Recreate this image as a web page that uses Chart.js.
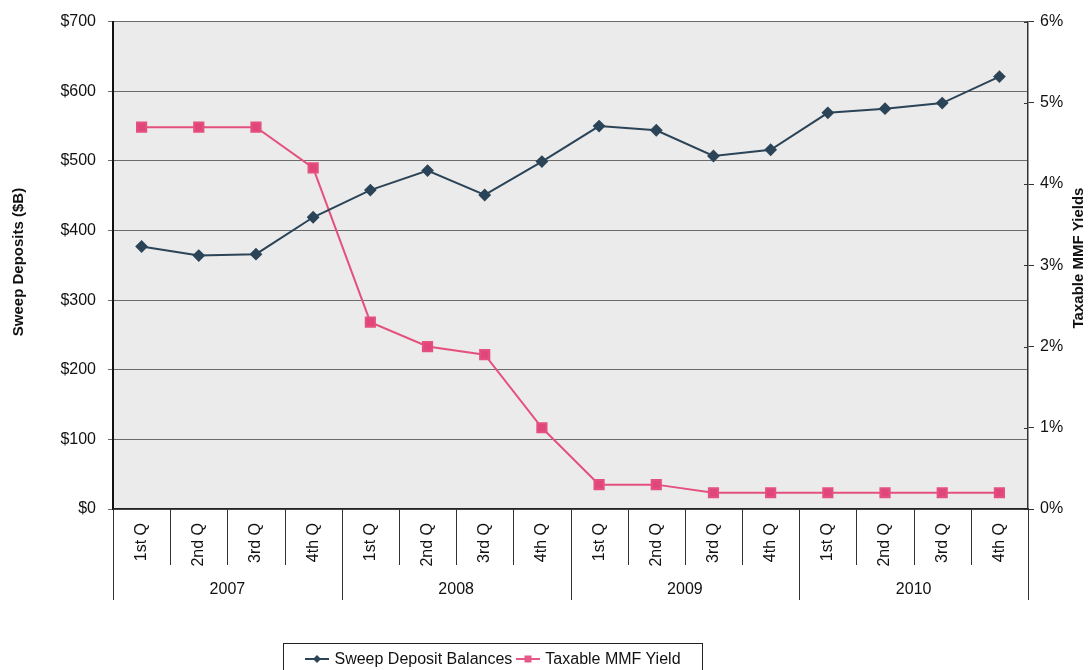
<!DOCTYPE html>
<html lang="en">
<head>
  <meta charset="UTF-8">
  <title>Sweep Deposits vs Taxable MMF Yields</title>
  <style>
    html, body { margin: 0; padding: 0; background: #fff; }
    .wrap { position: relative; width: 1088px; height: 670px; }
    #sweepChart { display: block; }
    .legend {
      position: absolute; left: 283px; top: 643px; width: 420px; height: 30px;
      border: 1px solid #222; border-bottom: none; box-sizing: border-box;
      font: 16px Arial, "Liberation Sans", sans-serif; color: #111;
      display: flex; align-items: center; justify-content: center; gap: 4px;
    }
    .legend span { display: inline-flex; align-items: center; }
    .legend svg { margin-right: 5px; }
  </style>
</head>
<body>
  <div class="wrap">
    <canvas id="sweepChart" width="1088" height="670"></canvas>
    <div class="legend">
      <span>
        <svg width="24" height="10"><line x1="0" y1="5" x2="24" y2="5" stroke="#2b4458" stroke-width="2"/><path d="M12 1 L16 5 L12 9 L8 5 Z" fill="#2b4458"/></svg>
        Sweep Deposit Balances
      </span>
      <span>
        <svg width="24" height="10"><line x1="0" y1="5" x2="24" y2="5" stroke="#e8578a" stroke-width="2"/><rect x="8.5" y="1.5" width="7" height="7" fill="#e8578a"/></svg>
        Taxable MMF Yield
      </span>
    </div>
  </div>

  <script src="https://cdn.jsdelivr.net/npm/chart.js"></script>
  <script>
    const quarters = ['1st Q', '2nd Q', '3rd Q', '4th Q',
                      '1st Q', '2nd Q', '3rd Q', '4th Q',
                      '1st Q', '2nd Q', '3rd Q', '4th Q',
                      '1st Q', '2nd Q', '3rd Q', '4th Q'];
    const years = ['2007', '2008', '2009', '2010'];
    // sweep balances in $ billions
    const sweepBalances = [377, 364, 366, 419, 458, 486, 451, 499, 550, 544, 507, 516, 569, 575, 583, 621];
    // taxable money market fund yield, percent
    const mmfYield = [4.7, 4.7, 4.7, 4.2, 2.3, 2.0, 1.9, 1.0, 0.3, 0.3, 0.2, 0.2, 0.2, 0.2, 0.2, 0.2];

    const FONT = 'Arial, "Liberation Sans", sans-serif';

    // plot background, two-level category axis and rotated axis titles
    const decorations = {
      id: 'decorations',
      beforeDraw(chart) {
        const { ctx, chartArea: a } = chart;
        ctx.save();
        ctx.fillStyle = '#ebebeb';
        ctx.fillRect(a.left, a.top, a.right - a.left, a.bottom - a.top);
        ctx.restore();
      },
      afterDraw(chart) {
        const { ctx, chartArea: a } = chart;
        const x = chart.scales.x;
        const step = x.getPixelForValue(1) - x.getPixelForValue(0);
        ctx.save();
        ctx.strokeStyle = '#333';
        ctx.lineWidth = 1;
        // cell borders under the axis
        for (let i = 0; i <= quarters.length; i++) {
          const px = Math.round(x.getPixelForValue(i) - step / 2) + 0.5;
          const long = i % 4 === 0;
          ctx.beginPath();
          ctx.moveTo(px, a.bottom);
          ctx.lineTo(px, a.bottom + (long ? 91 : 56));
          ctx.stroke();
        }
        // right axis ticks also poke into the plot
        const y1 = chart.scales.y1;
        y1.ticks.forEach(t => {
          const py = Math.round(y1.getPixelForValue(t.value)) + 0.5;
          ctx.beginPath();
          ctx.moveTo(a.right - 4, py);
          ctx.lineTo(a.right, py);
          ctx.stroke();
        });
        // quarter labels, reading upward
        ctx.fillStyle = '#111';
        ctx.font = '16px ' + FONT;
        ctx.textAlign = 'right';
        ctx.textBaseline = 'middle';
        quarters.forEach((q, i) => {
          ctx.save();
          ctx.translate(x.getPixelForValue(i), a.bottom + 14);
          ctx.rotate(-Math.PI / 2);
          ctx.fillText(q, 0, 0);
          ctx.restore();
        });
        // year labels
        ctx.textAlign = 'center';
        years.forEach((y, j) => {
          const cx = (x.getPixelForValue(j * 4) + x.getPixelForValue(j * 4 + 3)) / 2;
          ctx.fillText(y, cx, a.bottom + 81);
        });
        // axis titles
        ctx.font = 'bold 15px ' + FONT;
        const titles = [['Sweep Deposits ($B)', 19, 262], ['Taxable MMF Yields', 1079, 258]];
        titles.forEach(([t, tx, ty]) => {
          ctx.save();
          ctx.translate(tx, ty);
          ctx.rotate(-Math.PI / 2);
          ctx.fillText(t, 0, 0);
          ctx.restore();
        });
        ctx.restore();
      }
    };

    new Chart(document.getElementById('sweepChart'), {
      type: 'line',
      data: {
        labels: quarters,
        datasets: [{
          label: 'Sweep Deposit Balances',
          data: sweepBalances,
          yAxisID: 'y',
          borderColor: '#2b4458',
          backgroundColor: '#2b4458',
          borderWidth: 2,
          pointStyle: 'rectRot',
          pointRadius: 5,
          pointHoverRadius: 5,
          tension: 0
        }, {
          label: 'Taxable MMF Yield',
          data: mmfYield,
          yAxisID: 'y1',
          borderColor: '#e5517f',
          backgroundColor: '#e0457b',
          borderWidth: 2,
          pointStyle: 'rect',
          pointRadius: 6.5,
          pointHoverRadius: 6.5,
          tension: 0
        }]
      },
      options: {
        responsive: false,
        animation: false,
        layout: { padding: { top: 19, left: 0, right: 0, bottom: 0 } },
        plugins: { legend: { display: false }, tooltip: { enabled: false } },
        scales: {
          x: {
            offset: true,
            ticks: { display: false },
            grid: { display: false },
            border: { color: '#222', width: 1.5 },
            afterFit(scale) { scale.height = 161; }
          },
          y: {
            position: 'left',
            min: 0,
            max: 700,
            ticks: {
              stepSize: 100,
              padding: 12,
              color: '#111',
              font: { size: 16, family: FONT },
              callback: v => '$' + v
            },
            grid: { color: '#6b6b6b', lineWidth: 1, tickLength: 5 },
            border: { color: '#111', width: 2 },
            afterFit(scale) { scale.width = 113; }
          },
          y1: {
            position: 'right',
            min: 0,
            max: 6,
            ticks: {
              stepSize: 1,
              padding: 6,
              color: '#111',
              font: { size: 16, family: FONT },
              callback: v => v + '%'
            },
            grid: { drawOnChartArea: false, color: '#333', tickLength: 6 },
            border: { color: '#333', width: 1.5 },
            afterFit(scale) { scale.width = 60; }
          }
        }
      },
      plugins: [decorations]
    });
  </script>
</body>
</html>
